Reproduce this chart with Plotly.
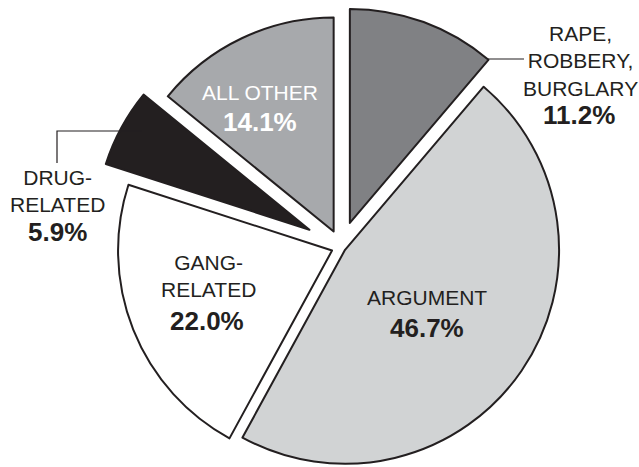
import math
import plotly.graph_objects as go

# ---- data ----
categories = ["RAPE, ROBBERY, BURGLARY", "ARGUMENT", "GANG-RELATED", "DRUG-RELATED", "ALL OTHER"]
shares = [11.2, 46.7, 22.0, 5.9, 14.1]
name_lines = [["RAPE,", "ROBBERY,", "BURGLARY"], ["ARGUMENT"], ["GANG-", "RELATED"],
              ["DRUG-", "RELATED"], ["ALL OTHER"]]

# ---- style ----
fills = ["#808184", "#d1d3d4", "#ffffff", "#231f20", "#a7a9ac"]
text_colors = ["#231f20", "#231f20", "#231f20", "#231f20", "#ffffff"]
pulls = [0.12, 0.023, 0.045, 0.168, 0.08]
OUTLINE = "#231f20"
W, H = 639, 467
CX, CY, R = 341, 247, 214
FONT = "Liberation Sans, Arial, sans-serif"

# label anchors in pixels: (name x, name y, pct x, pct y)
label_pos = [(580, 61, 579, 115), (427, 297, 427, 328), (208, 276, 207, 321),
             (57, 191, 57, 232), (260, 93, 260, 122)]

def px(x):
    return x / W

def py(y):
    return 1 - y / H

fig = go.Figure()
total = sum(shares)
start = 0.0
for i, v in enumerate(shares):
    span = 360.0 * v / total
    mid = math.radians(start + span / 2)
    start += span
    d = pulls[i] * R
    cx = CX + d * math.sin(mid)
    cy = CY - d * math.cos(mid)
    colors = [fills[i] if j == i else "rgba(0,0,0,0)" for j in range(len(shares))]
    widths = [2 if j == i else 0 for j in range(len(shares))]
    fig.add_trace(go.Pie(
        values=shares, labels=categories, sort=False, direction="clockwise", rotation=0,
        marker=dict(colors=colors, line=dict(color=OUTLINE, width=widths)),
        textinfo="none", hoverinfo="skip", showlegend=False,
        domain=dict(x=[px(cx - R), px(cx + R)], y=[py(cy + R), py(cy - R)]),
    ))

annotations = []
for i, v in enumerate(shares):
    nx, ny, qx, qy = label_pos[i]
    annotations.append(dict(
        x=px(nx), y=py(ny), xref="paper", yref="paper", showarrow=False,
        text="<br>".join(name_lines[i]), xanchor="center", yanchor="middle", align="center",
        font=dict(family=FONT, size=21, color=text_colors[i])))
    annotations.append(dict(
        x=px(qx), y=py(qy), xref="paper", yref="paper", showarrow=False,
        text=f"<b>{v:.1f}%</b>", xanchor="center", yanchor="middle",
        font=dict(family=FONT, size=26, color=text_colors[i])))

shapes = [
    dict(type="line", xref="paper", yref="paper", x0=px(487), y0=py(59), x1=px(524), y1=py(59),
         line=dict(color=OUTLINE, width=1.2)),
    dict(type="path", xref="paper", yref="paper",
         path=f"M {px(142)} {py(131)} L {px(57)} {py(131)} L {px(57)} {py(163)}",
         line=dict(color=OUTLINE, width=1.2)),
]

fig.update_layout(
    width=W, height=H, margin=dict(l=0, r=0, t=0, b=0),
    paper_bgcolor="white", plot_bgcolor="white",
    annotations=annotations, shapes=shapes,
)

fig.write_html("out.html", config={"displayModeBar": False},
               post_script="document.body.style.margin='0';")
